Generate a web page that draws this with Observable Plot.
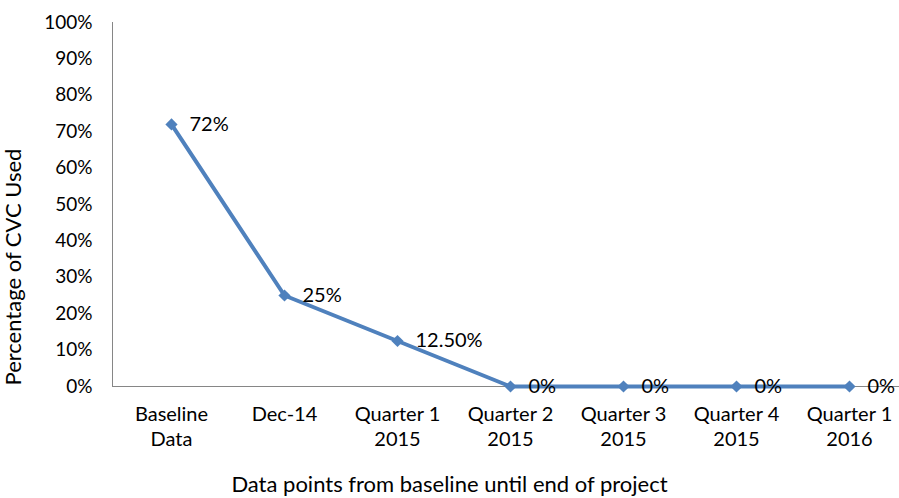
<!DOCTYPE html>
<html><head><meta charset="utf-8">
<script src="https://cdn.jsdelivr.net/npm/d3@7"></script>
<script src="https://cdn.jsdelivr.net/npm/@observablehq/plot@0.6"></script>
<style>
body{margin:0;background:#fff;font-family:Lato,sans-serif}
#xt{width:899px;text-align:center;font-size:22px;color:#000;height:30px;line-height:32px}
</style>
</head><body>
<div id="chart"></div>
<div id="xt"></div>
<script>
const categories = ["Baseline\nData", "Dec-14", "Quarter 1\n2015", "Quarter 2\n2015", "Quarter 3\n2015", "Quarter 4\n2015", "Quarter 1\n2016"];
const values = [0.72, 0.25, 0.125, 0, 0, 0, 0];
const valueLabels = ["72%", "25%", "12.50%", "0%", "0%", "0%", "0%"];
const yTicks = [0, 0.1, 0.2, 0.3, 0.4, 0.5, 0.6, 0.7, 0.8, 0.9, 1];
const yTitle = "Percentage of CVC Used";
const xTitle = "Data points from baseline until end of project";

const data = categories.map((c, i) => ({cat: c, v: values[i], label: valueLabels[i]}));

const plot = Plot.plot({
  width: 899, height: 468,
  marginLeft: 112, marginRight: 0, marginTop: 22, marginBottom: 82,
  style: {fontFamily: "Lato, sans-serif", fontSize: "19px", color: "#000", background: "#fff"},
  x: {type: "point", domain: categories, padding: 0, insetLeft: 58, insetRight: 49},
  y: {domain: [0, 1]},
  marks: [
    Plot.axisY({ticks: yTicks, tickFormat: d3.format(".0%"), tickSize: 0, tickPadding: 20, label: null}),
    Plot.axisX({tickSize: 0, tickPadding: 17, label: null, lineHeight: 1.25, fontSize: 20}),
    Plot.ruleY([0], {stroke: "#868686", strokeWidth: 1}),
    Plot.frame({anchor: "left", stroke: "#868686"}),
    Plot.line(data, {x: "cat", y: "v", stroke: "#4F81BD", strokeWidth: 4}),
    Plot.dot(data, {x: "cat", y: "v", symbol: "diamond2", r: 5.5, fill: "#4F81BD", stroke: "none"}),
    Plot.text(data, {x: "cat", y: "v", text: "label", textAnchor: "start", dx: 18, fill: "#000", fontSize: 20}),
    Plot.text([yTitle], {frameAnchor: "bottom-left", rotate: -90, textAnchor: "start", dx: -92, dy: -1, fontSize: 22, fill: "#000"})
  ]
});
document.getElementById("chart").appendChild(plot);
document.getElementById("xt").textContent = xTitle;
</script>
</body></html>
